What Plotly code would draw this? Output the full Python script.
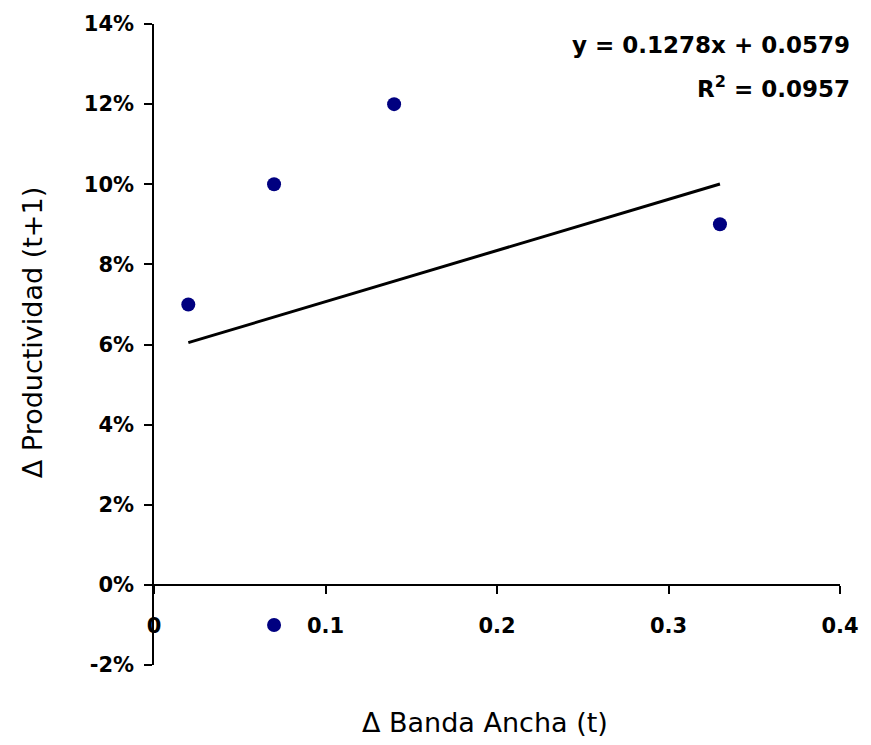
import plotly.graph_objects as go

banda_ancha = [0.02, 0.07, 0.14, 0.33, 0.07]
productividad = [0.07, 0.10, 0.12, 0.09, -0.01]
slope = 0.1278
intercept = 0.0579
r2 = 0.0957
trend_x = [min(banda_ancha), max(banda_ancha)]
trend_y = [slope * v + intercept for v in trend_x]
x_ticks = [0, 0.1, 0.2, 0.3, 0.4]
x_tick_labels = ["0", "0.1", "0.2", "0.3", "0.4"]
y_ticks = [-0.02, 0, 0.02, 0.04, 0.06, 0.08, 0.10, 0.12, 0.14]
y_tick_labels = ["-2%", "0%", "2%", "4%", "6%", "8%", "10%", "12%", "14%"]

fig = go.Figure()
fig.add_trace(go.Scatter(x=trend_x, y=trend_y, mode="lines",
                         line=dict(color="black", width=3), showlegend=False))
fig.add_trace(go.Scatter(x=banda_ancha, y=productividad, mode="markers",
                         marker=dict(color="#000080", size=14), showlegend=False))

font = "DejaVu Sans, sans-serif"
fig.update_layout(
    width=871, height=745,
    margin=dict(l=154, r=21, t=19, b=80),
    plot_bgcolor="white", paper_bgcolor="white",
    font=dict(family=font, color="black"),
    xaxis=dict(range=[0, 0.4], tickvals=x_ticks, ticktext=x_tick_labels,
               showgrid=False, zeroline=False, showline=True, linecolor="black", linewidth=1.5,
               ticks="outside", ticklen=8, tickwidth=1.5, tickcolor="black",
               anchor="free", position=0.125, ticklabelstandoff=14,
               tickfont=dict(size=21, family=font, weight="bold")),
    yaxis=dict(range=[-0.02, 0.14], tickvals=y_ticks, ticktext=y_tick_labels,
               showgrid=False, zeroline=False, showline=True, linecolor="black", linewidth=1.5,
               ticks="outside", ticklen=8, tickwidth=1.5, tickcolor="black",
               ticklabelstandoff=6,
               tickfont=dict(size=21, family=font, weight="bold")),
)
fig.add_annotation(xref="paper", yref="paper", x=0.483, y=-0.09, xanchor="center", yanchor="middle",
                   text="Δ Banda Ancha (t)", showarrow=False, font=dict(size=27, family=font))
fig.add_annotation(xref="paper", yref="paper", x=-0.178, y=0.519, xanchor="center", yanchor="middle",
                   text="Δ Productividad (t+1)", textangle=-90, showarrow=False, font=dict(size=27, family=font))
fig.add_annotation(xref="paper", yref="paper", x=1.017, y=0.967, xanchor="right", yanchor="middle",
                   text=f"y = {slope}x + {intercept}", showarrow=False,
                   font=dict(size=23, family=font, weight="bold"))
fig.add_annotation(xref="paper", yref="paper", x=1.017, y=0.901, xanchor="right", yanchor="middle",
                   text=f"R<sup>2</sup> = {r2}", showarrow=False,
                   font=dict(size=23, family=font, weight="bold"))

fig.write_html("out.html", config={"displayModeBar": False},
               post_script="document.body.style.margin='0px';")
